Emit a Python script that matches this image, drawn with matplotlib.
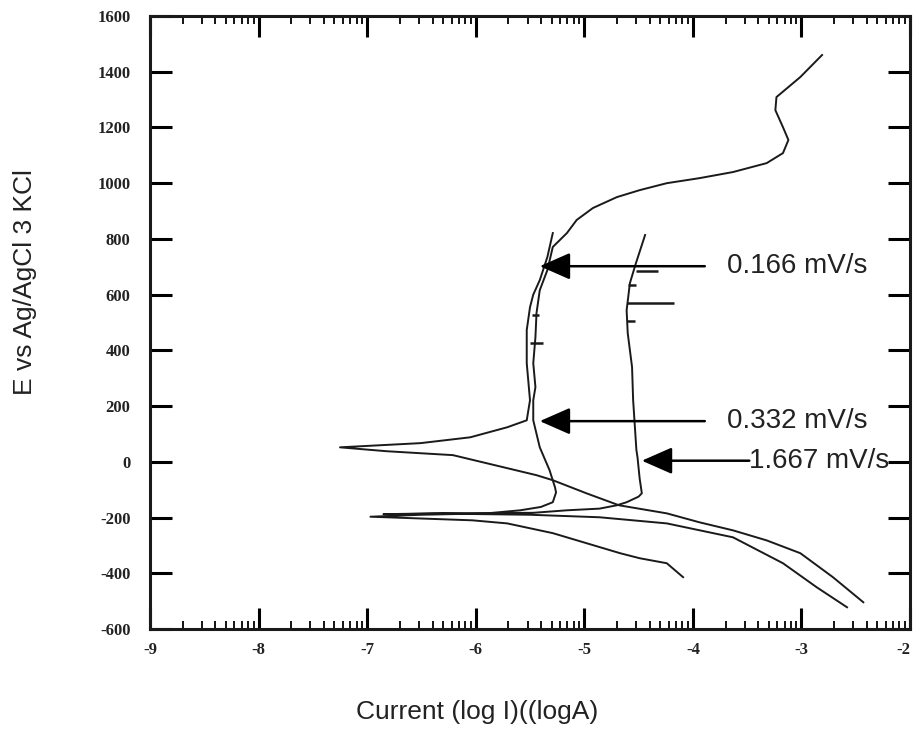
import matplotlib.pyplot as plt
import numpy as np

plt.rcParams['font.family'] = ['Liberation Sans', 'DejaVu Sans']
plt.rcParams['axes.unicode_minus'] = False

# polarization curves: log current (A), potential (mV)
# curve with Ecorr near +50 mV
c1_x = [-2.43, -2.71, -3.01, -3.32, -3.63, -3.94, -4.24, -4.68, -4.98, -5.29, -5.44,
        -5.75, -6.21, -6.82, -7.25, -6.51, -6.05, -5.71, -5.53, -5.50, -5.53, -5.53,
        -5.50, -5.47, -5.41, -5.34, -5.29]
c1_y = [-504, -414, -328, -282, -246, -217, -185, -156, -113, -66, -48,
        -19, 24, 38, 52, 67, 88, 124, 149, 221, 354, 473,
        555, 600, 652, 735, 821]

# curve with Ecorr near -195 mV, runs up to 1450 mV
c2_x = [-4.09, -4.24, -4.49, -4.67, -4.98, -5.29, -5.71, -6.03, -6.97, -6.50, -5.90,
        -5.59, -5.40, -5.29, -5.26, -5.27, -5.32, -5.41, -5.47, -5.47, -5.45, -5.47,
        -5.45, -5.44, -5.41, -5.34, -5.29, -5.16, -5.07, -4.92, -4.70, -4.49, -4.24,
        -3.94, -3.63, -3.32, -3.17, -3.12, -3.17, -3.24, -3.23, -3.01, -2.81]
c2_y = [-414, -364, -346, -328, -292, -256, -221, -210, -197, -190, -185,
        -174, -162, -145, -110, -91, -30, 52, 149, 221, 268, 354,
        447, 534, 616, 688, 771, 821, 868, 911, 950, 975, 1000,
        1018, 1040, 1072, 1108, 1155, 1201, 1262, 1309, 1381, 1460]

# curve with passive plateau near -4.55
c3_x = [-2.58, -2.86, -3.17, -3.63, -4.24, -4.86, -5.50, -6.30, -6.85, -6.40, -5.47,
        -5.16, -4.86, -4.70, -4.61, -4.50, -4.47, -4.49, -4.51, -4.52, -4.55, -4.56,
        -4.60, -4.61, -4.58, -4.53, -4.44]
c3_y = [-522, -450, -364, -271, -221, -199, -190, -186, -188, -185, -183,
        -174, -168, -156, -145, -125, -113, -60, 17, 42, 221, 340,
        462, 544, 641, 706, 814]

# short horizontal spikes on the traces
spike_y = [686, 634, 571, 506, 427, 526]
spike_x0 = [-4.52, -4.60, -4.61, -4.61, -5.50, -5.48]
spike_x1 = [-4.32, -4.52, -4.17, -4.53, -5.38, -5.42]

# arrows and rate labels
rate_labels = ['0.166 mV/s', '0.332 mV/s', '1.667 mV/s']
rate_y = [702, 146, 4]
arrow_tip_x = [-5.41, -5.41, -4.47]
arrow_tail_x = [-3.89, -3.89, -3.48]
label_x = [-3.69, -3.69, -3.48]

x_ticks = list(range(-9, -1))
y_ticks = list(range(-600, 1601, 200))

fig = plt.figure(figsize=(9.14, 7.35), dpi=100)
ax = fig.add_axes([150/914, 1-629/735, 760/914, 613/735])

for xs, ys in [(c1_x, c1_y), (c2_x, c2_y), (c3_x, c3_y)]:
    ax.plot(xs, ys, color='#1a1a1a', lw=1.4)
ax.hlines(spike_y, spike_x0, spike_x1, color='#1a1a1a', lw=1.8)

for lab, y, tip, tail, lx in zip(rate_labels, rate_y, arrow_tip_x, arrow_tail_x, label_x):
    ax.annotate('', xy=(tip, y), xytext=(tail, y),
                arrowprops=dict(arrowstyle='-|>,head_length=0.75,head_width=0.33',
                                color='black', lw=1.8, mutation_scale=25,
                                shrinkA=0, shrinkB=0))
    ax.text(lx, y, lab, va='center', ha='left', fontsize=20, color='#222222')

ax.set_xlim(-9, -2)
ax.set_ylim(-600, 1600)
ax.set_xticks(x_ticks)
ax.set_xticklabels([str(v) for v in x_ticks])
ax.set_yticks(y_ticks)
ax.set_yticklabels([str(v) for v in y_ticks])
minor = [d + np.log10(k) for d in range(-9, -2) for k in range(2, 10)]
ax.set_xticks(minor, minor=True)

ax.tick_params(axis='x', which='major', direction='in', length=15, width=2.2,
               top=True, pad=9)
ax.tick_params(axis='x', which='minor', direction='in', length=6, width=1.3, top=True)
ax.tick_params(axis='y', which='major', direction='in', length=16, width=2.2,
               right=True, pad=14)
for lab in ax.get_xticklabels() + ax.get_yticklabels():
    lab.set_family('Liberation Serif')
    lab.set_fontweight('bold')
    lab.set_fontsize(12)
    lab.set_color('#222222')
ax.get_xticklabels()[-1].set_horizontalalignment('right')
for s in ax.spines.values():
    s.set_linewidth(2.2)
    s.set_color('#1a1a1a')

fig.text(477/914, 1-712/735, 'Current (log I)((logA)', ha='center', va='center',
         fontsize=19, color='#222222')
fig.text(25/914, 1-282/735, 'E vs Ag/AgCl 3 KCl', ha='center', va='center',
         rotation=90, fontsize=19, color='#222222')

fig.savefig('out.png', dpi=100)
